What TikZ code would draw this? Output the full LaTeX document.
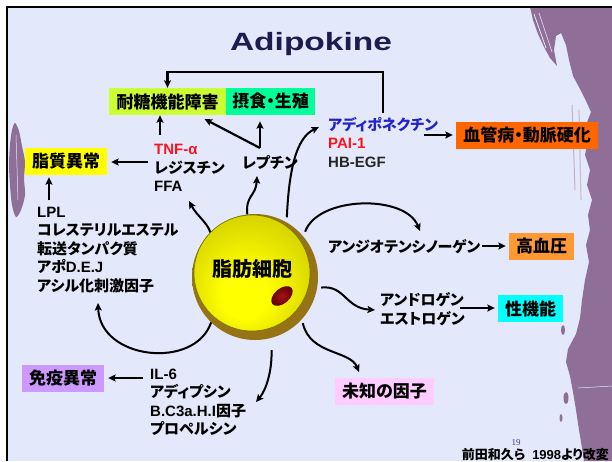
\documentclass[tikz,border=0pt]{standalone}
\usepackage{fontspec}
\setmainfont{Noto Sans CJK JP}[RawFeature=+palt]
\newfontfamily\latfont{Liberation Sans}
\newfontfamily\numfont{Liberation Serif}
\usetikzlibrary{arrows.meta}

\definecolor{bg}{RGB}{228,232,251}
\definecolor{decopurple}{RGB}{143,111,151}
\definecolor{glucol}{RGB}{204,255,51}
\definecolor{feedcol}{RGB}{0,255,153}
\definecolor{lipcol}{RGB}{255,255,0}
\definecolor{vasccol}{RGB}{255,102,0}
\definecolor{hypcol}{RGB}{255,153,51}
\definecolor{sexcol}{RGB}{0,255,255}
\definecolor{immcol}{RGB}{204,153,255}
\definecolor{unkcol}{RGB}{255,204,255}
\definecolor{redtxt}{RGB}{250,20,30}
\definecolor{bluetxt}{RGB}{35,35,200}
\definecolor{titlenavy}{RGB}{28,28,78}
\definecolor{numnavy}{RGB}{60,60,140}
\definecolor{cellhi}{RGB}{255,255,0}
\definecolor{cellmid}{RGB}{215,212,0}
\definecolor{celledge}{RGB}{150,145,0}
\definecolor{rimin}{RGB}{150,115,20}
\definecolor{rimout}{RGB}{115,88,8}
\definecolor{nucin}{RGB}{165,20,20}
\definecolor{nucout}{RGB}{95,0,0}

\pgfdeclareradialshading{cellglow}{\pgfpoint{-4bp}{-12bp}}{%
  color(0bp)=(cellhi); color(10bp)=(cellhi); color(30bp)=(cellmid);
  color(46bp)=(celledge); color(50bp)=(celledge)}
\pgfdeclareradialshading{rimglow}{\pgfpoint{-6bp}{6bp}}{%
  color(0bp)=(rimin); color(38bp)=(rimin); color(50bp)=(rimout)}

\newcommand\latn[1]{{\latfont\bfseries #1}}
\newcommand\tagfont{\fontsize{17}{20}\selectfont\bfseries}
\newcommand\listfont{\fontsize{15}{18.5}\selectfont\bfseries}

\tikzset{
  tagbox/.style={fill=#1, inner sep=0pt, minimum height=27pt, font=\tagfont, text=black},
  listtext/.style={anchor=west, align=left, inner sep=0pt, font=\listfont, text=black},
  arr/.style={line width=2.2pt, -{Stealth[length=7.5pt,width=7pt,inset=1.5pt]}},
  link/.style={line width=2pt, -{Stealth[length=7.5pt,width=7pt,inset=1.5pt]}},
  brush/.style={fill=decopurple, draw=none},
}

\begin{document}
\begin{tikzpicture}[x=1pt,y=-1pt]
\useasboundingbox (0,0) rectangle (612,461);
\fill[white] (0,0) rectangle (612,461);

% slide panel
\fill[bg] (7,7) rectangle (612,461);

% brush strokes along the right edge
\path[brush]
  (612,7) -- (530,7) -- (533,20) -- (538,34) -- (544,47) -- (550,58) -- (557,66)
  -- (554,50) -- (556,36) -- (561,33) -- (566,45) -- (569,60) -- (573,76)
  -- (580,89) -- (586,101) -- (591,112) -- (586,125) -- (588,140) -- (585,155)
  -- (590,170) -- (587,185) -- (592,200) -- (588,215) -- (590,230) -- (586,245)
  -- (589,262) -- (585,280) -- (582,300) -- (580,318) -- (576,334) -- (568,349)
  -- (566,362) -- (570,376) -- (573,392) -- (576,410) -- (579,430) -- (582,448)
  -- (584,461) -- (612,461) -- cycle;
\draw[bg, line width=0.8pt] (534,14) -- (546,48);
\draw[bg, line width=0.6pt] (539,13) -- (552,52);
\draw[bg, line width=0.5pt] (578,388) -- (612,386);
\draw[decopurple!55, line width=1pt] (572,105) -- (575,190);
\draw[decopurple!45, line width=1.2pt] (579,110) -- (581,200);
\path[brush] (563,330) ellipse[x radius=2, y radius=5];
\path[brush] (566,398) ellipse[x radius=2.5, y radius=6];
\path[brush] (561,418) ellipse[x radius=1.5, y radius=4];

% brush stroke on the left edge
\path[brush] plot[smooth cycle,tension=0.5] coordinates {
  (15,123) (19,131) (22,146) (25,162) (24,178) (25,195) (21,210) (16,217)
  (12,205) (10,185) (9,165) (10,145) (12,130)};
\draw[bg, line width=0.5pt] (16,135) -- (18,200);

% frame
\draw[line width=2.5pt, line join=miter] (7,461) -- (7,7) -- (612,7);

% title
\node[font=\latfont\bfseries\fontsize{25}{30}\selectfont, text=titlenavy, anchor=base]
  (title) at (311,50) {\scalebox{1.34}[1]{Adipokine}};

% outcome boxes
\node[tagbox=glucol,  minimum width=117pt] (glu)   at (167.5,101.5) {耐糖機能障害};
\node[tagbox=feedcol, minimum width=89pt]  (feed)  at (270.5,101.5) {摂食・生殖};
\node[tagbox=lipcol,  minimum width=82pt]  (lipid) at (66,161.5)    {脂質異常};
\node[tagbox=vasccol, minimum width=142pt] (vasc)  at (527,135.5)   {血管病・動脈硬化};
\node[tagbox=hypcol,  minimum width=65pt]  (hyper) at (541.5,246.5) {高血圧};
\node[tagbox=sexcol,  minimum width=65pt]  (sex)   at (530.5,308.5) {性機能};
\node[tagbox=immcol,  minimum width=82pt]  (immun) at (63,378.5)    {免疫異常};
\node[tagbox=unkcol,  minimum width=99pt]  (unk)   at (384.5,391.5) {未知の因子};

% secreted factors
\node[listtext] (tnf) at (154,168)
  {{\color{redtxt}\latn{TNF-α}}\\レジスチン\\\latn{FFA}};
\node[listtext] (leptin) at (242,163) {レプチン};
\node[listtext] (adipo) at (328,142)
  {{\color{bluetxt}アディポネクチン}\\{\color{redtxt}\latn{PAI-1}}\\{\color{black!85}\latn{HB-EGF}}};
\node[listtext] (angio) at (328,247) {アンジオテンシノーゲン};
\node[listtext] (andro) at (380,309) {アンドロゲン\\エストロゲン};
\node[listtext] (il6) at (150,402.5)
  {\latn{IL-6}\\アディプシン\\\latn{B.C3a.H.I}因子\\プロペルシン};
\node[listtext] (lpl) at (37,250)
  {\latn{LPL}\\コレステリルエステル\\転送タンパク質\\アポ\latn{D.E.J}\\アシル化刺激因子};

% the adipocyte
\node[circle, inner sep=0pt, minimum size=126pt] (cell) at (255,277) {};
\shade[shading=rimglow] (255,277) circle[radius=63];
\shade[shading=cellglow] (252,273) circle[radius=58];
\draw[celledge!80!black, line width=0.6pt] (252,273) circle[radius=58];
\shade[inner color=nucin, outer color=nucout, rotate around={40:(282,296)}]
  (282,296) ellipse[x radius=12.5, y radius=7.5];
\node[font=\fontsize{20}{24}\selectfont\bfseries, text=black] (cellname) at (252,269) {脂肪細胞};

% free ends of the secretion arrows
\coordinate (tipffa)   at (189,201);
\coordinate (tiplep)   at (257,176);
\coordinate (tipadipo) at (319,127);
\coordinate (tipangio) at (420,231);
\coordinate (tipandro) at (375,310);
\coordinate (tipunk)   at (359,372);
\coordinate (tipil6)   at (256,402);
\coordinate (tiplpl)   at (98,303);

% secretion arrows out of the cell
\draw[link] (cell.135) .. controls (207,222) and (197,216) .. (tipffa);
\draw[link] (cell.97) .. controls (245,196) and (256,196) .. (tiplep);
\draw[link, shorten <=5pt] (cell.60) .. controls (289,170) and (296,138) .. (tipadipo);
\draw[link, shorten <=5pt] (cell.40) .. controls (318,196) and (405,194) .. (tipangio);
\draw[link, shorten <=4pt] (cell.-10) .. controls (345,285) and (345,308) .. (tipandro);
\draw[link, shorten <=4pt] (cell.-42) .. controls (310,355) and (350,350) .. (tipunk);
\draw[link, shorten <=12pt] (cell.-75) .. controls (272,372) and (266,390) .. (tipil6);
\draw[link] (cell.-134) .. controls (195,370) and (100,360) .. (tiplpl);

% arrows from the factors to their outcomes
\coordinate (tnfup) at (160,135);
\draw[arr] (tnfup) -- (tnfup |- glu.south);
\coordinate (tnfleft) at (148,162);
\draw[arr, shorten >=4pt] (tnfleft) -- (tnfleft -| lipid.east);
\coordinate (lplup) at (49,200);
\draw[arr, shorten >=2pt] (lplup) -- (lplup |- lipid.south);
\coordinate (lepv) at (260,148);
\draw[arr, shorten >=4pt] (lepv) -- ([xshift=33.5pt,yshift=-2pt]glu.south);
\draw[arr, shorten >=6pt] (lepv) -- (lepv |- feed.south);
\coordinate (fbstart) at (383,113);
\coordinate (fbtop) at (383,72);
\draw[arr] (fbstart) -- (fbtop) -| (glu.north);
\coordinate (adiporight) at (424,135);
\draw[arr, shorten >=3pt] (adiporight) -- (adiporight -| vasc.west);
\coordinate (angioright) at (482,246);
\draw[arr, shorten >=3pt] (angioright) -- (angioright -| hyper.west);
\coordinate (androright) at (460,308);
\draw[arr, shorten >=3pt] (androright) -- (androright -| sex.west);
\coordinate (il6left) at (143,378);
\draw[arr, shorten >=4pt] (il6left) -- (il6left -| immun.east);

% source note and page number
\node[font=\fontsize{13}{15}\selectfont\bfseries, anchor=base east, inner sep=0pt]
  (cite) at (609,459.5) {前田和久ら\hspace{7pt}\latn{1998}より改変};
\node[font=\numfont\fontsize{9}{10}\selectfont, text=numnavy, inner sep=0pt] (pageno) at (516,443) {19};
\end{tikzpicture}
\end{document}
